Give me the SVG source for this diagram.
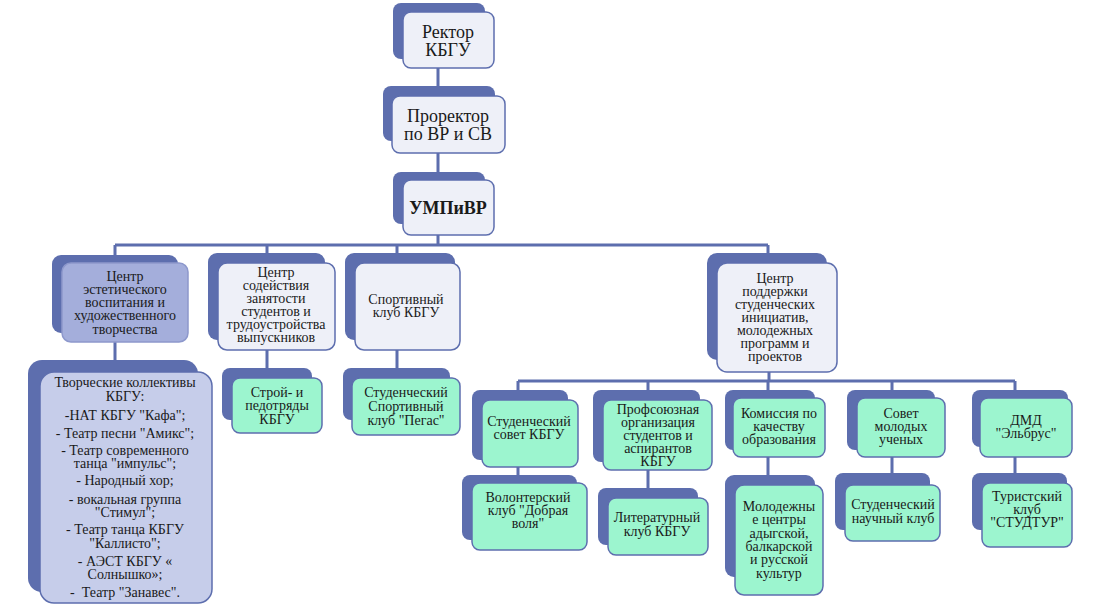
<svg xmlns="http://www.w3.org/2000/svg" width="1100" height="609" viewBox="0 0 1100 609" font-family="'Liberation Serif', 'DejaVu Serif', 'Times New Roman', serif">
<style>
.bk{fill:#5d6eae}
.fl{fill:#eef0f8;stroke:#5d6eae;stroke-width:1.5}
.fg{fill:#9cf5cf;stroke:#5d6eae;stroke-width:1.5}
.fp{fill:#a4aedb;stroke:#8d98cc;stroke-width:1.5}
.fv{fill:#c6cdea;stroke:#5d6eae;stroke-width:1.5}
text{font-family:'Liberation Serif', 'DejaVu Serif', 'Times New Roman', serif}
.t{font-size:14px;fill:#1a1a1a;text-anchor:middle}
.tb{font-size:18px;fill:#1a1a1a;text-anchor:middle}
.cn{fill:none;stroke:#5d6eae;stroke-width:3}
</style>
<rect width="1100" height="609" fill="#ffffff"/>
<g id="connectors">
<path class="cn" d="M438 60V180M438 235V245M115 245H768M115 245V263M267 245V263M397 245V263M768 245V263M115 342V372M267 350V378M397 350V378M769 372V381M518 381H1015M518 381V400M648 381V400M768 381V398M892 381V398M1015 381V398M518 467V483M648 470V498M768 457V485M892 457V485M1015 457V483"/>
</g>
<g id="rector">
<rect class="bk" x="393" y="3" width="92" height="56" rx="8"/>
<rect class="fl" x="403" y="12" width="91" height="56" rx="8"/>
<text class="tb" x="448" y="38">Ректор</text>
<text class="tb" x="448" y="56">КБГУ</text>
</g>
<g id="prorector">
<rect class="bk" x="383" y="86" width="112" height="55" rx="8"/>
<rect class="fl" x="392" y="96" width="113" height="57" rx="8"/>
<text class="tb" x="448" y="122">Проректор</text>
<text class="tb" x="448" y="140">по ВР и СВ</text>
</g>
<g id="umpivr">
<rect class="bk" x="393" y="172" width="92" height="52" rx="8"/>
<rect class="fl" x="403" y="180" width="91" height="55" rx="8"/>
<text class="tb" x="448" y="214" font-weight="bold" font-size="17">УМПиВР</text>
</g>
<g id="esthetic">
<rect class="bk" x="52" y="255" width="126" height="78" rx="9"/>
<rect class="fp" x="62" y="263" width="126" height="79" rx="9"/>
<text class="t" x="125" y="281">Центр</text>
<text class="t" x="125" y="294">эстетического</text>
<text class="t" x="125" y="307">воспитания и</text>
<text class="t" x="125" y="320">художественного</text>
<text class="t" x="125" y="334">творчества</text>
</g>
<g id="collectives">
<rect class="bk" x="28" y="360" width="170" height="232" rx="14"/>
<rect class="fv" x="40" y="372" width="172" height="231" rx="14"/>
<text class="t" x="125" y="387">Творческие коллективы</text>
<text class="t" x="125" y="401">КБГУ:</text>
<text class="t" x="125" y="420">-НАТ КБГУ "Кафа";</text>
<text class="t" x="125" y="438">- Театр песни "Амикс";</text>
<text class="t" x="125" y="455">- Театр современного</text>
<text class="t" x="125" y="468">танца "импульс";</text>
<text class="t" x="125" y="485">- Народный хор;</text>
<text class="t" x="125" y="504">- вокальная группа</text>
<text class="t" x="125" y="517">"Стимул";</text>
<text class="t" x="125" y="534">- Театр танца КБГУ</text>
<text class="t" x="125" y="548">"Каллисто";</text>
<text class="t" x="125" y="566">- АЭСТ КБГУ «</text>
<text class="t" x="125" y="579">Солнышко»;</text>
<text class="t" x="125" y="597" xml:space="preserve">-  Театр "Занавес".</text>
</g>
<g id="employment">
<rect class="bk" x="208" y="253" width="117" height="87" rx="9"/>
<rect class="fl" x="218" y="263" width="117" height="87" rx="9"/>
<text class="t" x="276" y="277">Центр</text>
<text class="t" x="276" y="290">содействия</text>
<text class="t" x="276" y="303">занятости</text>
<text class="t" x="276" y="316">студентов и</text>
<text class="t" x="276" y="329">трудоустройства</text>
<text class="t" x="276" y="342">выпускников</text>
</g>
<g id="stroy">
<rect class="bk" x="222" y="368" width="90" height="52" rx="8"/>
<rect class="fg" x="232" y="378" width="90" height="55" rx="8"/>
<text class="t" x="277" y="397">Строй- и</text>
<text class="t" x="277" y="410">педотряды</text>
<text class="t" x="277" y="424">КБГУ</text>
</g>
<g id="sport">
<rect class="bk" x="345" y="253" width="110" height="87" rx="9"/>
<rect class="fl" x="355" y="263" width="105" height="87" rx="9"/>
<text class="t" x="406" y="304">Спортивный</text>
<text class="t" x="406" y="317">клуб КБГУ</text>
</g>
<g id="pegas">
<rect class="bk" x="343" y="368" width="107" height="52" rx="8"/>
<rect class="fg" x="352" y="378" width="108" height="57" rx="8"/>
<text class="t" x="406" y="397">Студенческий</text>
<text class="t" x="406" y="411">Спортивный</text>
<text class="t" x="406" y="425">клуб "Пегас"</text>
</g>
<g id="support">
<rect class="bk" x="707" y="253" width="120" height="107" rx="10"/>
<rect class="fl" x="717" y="263" width="120" height="109" rx="10"/>
<text class="t" x="775" y="283">Центр</text>
<text class="t" x="775" y="296">поддержки</text>
<text class="t" x="775" y="309">студенческих</text>
<text class="t" x="775" y="322">инициатив,</text>
<text class="t" x="775" y="335">молодежных</text>
<text class="t" x="775" y="348">программ и</text>
<text class="t" x="775" y="361">проектов</text>
</g>
<g id="council">
<rect class="bk" x="472" y="390" width="96" height="70" rx="8"/>
<rect class="fg" x="482" y="400" width="96" height="67" rx="8"/>
<text class="t" x="529" y="426">Студенческий</text>
<text class="t" x="529" y="439">совет КБГУ</text>
</g>
<g id="volunteer">
<rect class="bk" x="462" y="475" width="115" height="65" rx="8"/>
<rect class="fg" x="472" y="483" width="115" height="67" rx="8"/>
<text class="t" x="528" y="502">Волонтерский</text>
<text class="t" x="528" y="515">клуб "Добрая</text>
<text class="t" x="528" y="528">воля"</text>
</g>
<g id="union">
<rect class="bk" x="593" y="390" width="107" height="72" rx="8"/>
<rect class="fg" x="603" y="400" width="109" height="70" rx="8"/>
<text class="t" x="658" y="414">Профсоюзная</text>
<text class="t" x="658" y="427">организация</text>
<text class="t" x="658" y="440">студентов и</text>
<text class="t" x="658" y="453">аспирантов</text>
<text class="t" x="658" y="466">КБГУ</text>
</g>
<g id="literary">
<rect class="bk" x="598" y="488" width="100" height="57" rx="8"/>
<rect class="fg" x="608" y="498" width="100" height="57" rx="8"/>
<text class="t" x="657" y="522">Литературный</text>
<text class="t" x="657" y="536">клуб КБГУ</text>
</g>
<g id="commission">
<rect class="bk" x="725" y="390" width="90" height="60" rx="8"/>
<rect class="fg" x="733" y="398" width="92" height="59" rx="8"/>
<text class="t" x="779" y="418">Комиссия по</text>
<text class="t" x="779" y="431">качеству</text>
<text class="t" x="779" y="444">образования</text>
</g>
<g id="youth">
<rect class="bk" x="725" y="475" width="90" height="102" rx="9"/>
<rect class="fg" x="735" y="485" width="88" height="110" rx="9"/>
<text class="t" x="779" y="511">Молодежны</text>
<text class="t" x="779" y="524">е центры</text>
<text class="t" x="779" y="538">адыгской,</text>
<text class="t" x="779" y="551">балкарской</text>
<text class="t" x="779" y="564">и русской</text>
<text class="t" x="779" y="578">культур</text>
</g>
<g id="scientists">
<rect class="bk" x="847" y="390" width="88" height="60" rx="8"/>
<rect class="fg" x="857" y="398" width="88" height="59" rx="8"/>
<text class="t" x="901" y="418">Совет</text>
<text class="t" x="901" y="431">молодых</text>
<text class="t" x="901" y="444">ученых</text>
</g>
<g id="sciclub">
<rect class="bk" x="835" y="473" width="95" height="57" rx="8"/>
<rect class="fg" x="845" y="485" width="95" height="56" rx="8"/>
<text class="t" x="893" y="509">Студенческий</text>
<text class="t" x="893" y="523">научный клуб</text>
</g>
<g id="dmd">
<rect class="bk" x="972" y="390" width="96" height="57" rx="8"/>
<rect class="fg" x="980" y="398" width="92" height="59" rx="8"/>
<text class="t" x="1026" y="425">ДМД</text>
<text class="t" x="1026" y="438">"Эльбрус"</text>
</g>
<g id="studtur">
<rect class="bk" x="972" y="473" width="95" height="57" rx="8"/>
<rect class="fg" x="982" y="483" width="90" height="64" rx="8"/>
<text class="t" x="1027" y="501">Туристский</text>
<text class="t" x="1027" y="514">клуб</text>
<text class="t" x="1027" y="527">"СТУДТУР"</text>
</g>
</svg>
